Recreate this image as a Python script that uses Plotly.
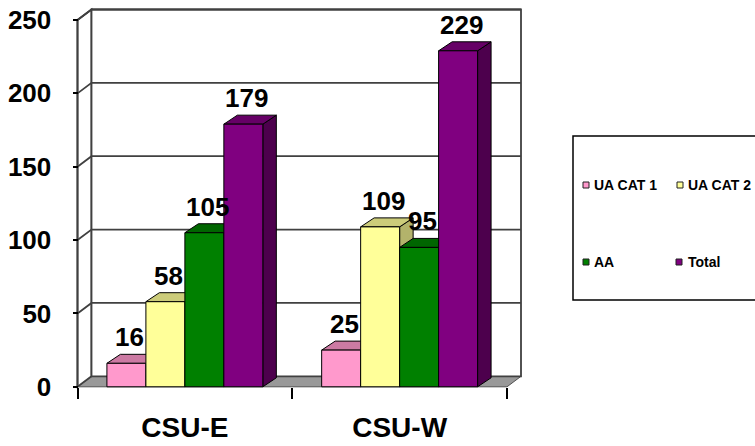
import plotly.graph_objects as go

# ---- data -------------------------------------------------------------
categories = ["CSU-E", "CSU-W"]
series_names = ["UA CAT 1", "UA CAT 2", "AA", "Total"]
ua_cat1 = [16, 25]
ua_cat2 = [58, 109]
aa = [105, 95]
total = [179, 229]
y_tick_values = [0, 50, 100, 150, 200, 250]

series_values = [ua_cat1, ua_cat2, aa, total]

# ---- styles -----------------------------------------------------------
front_colors = ["#FF99CC", "#FFFF99", "#008000", "#800080"]
top_colors = ["#CC7AA3", "#CCCC7A", "#006600", "#660066"]
side_colors = ["#B36B8F", "#B3B36B", "#004D00", "#4D004D"]
FONT = "Liberation Sans, Arial, sans-serif"
GRID = "#404040"

# ---- frame geometry (pixels) -------------------------------------------
W, H = 755, 446
L, R, T, B = 60, 205, 4, 36
plot_w = W - L - R
plot_h = H - T - B

AX_X0, AX_X1 = 77.5, 507.0        # front edge of floor, left / right
AX_Y0, AX_YTOP = 386.8, 20.0      # value 0 / value 250 on the front axis
Y_TOP = y_tick_values[-1]
PX_PER_X = (AX_X1 - AX_X0) / len(categories)
PX_PER_Y = (AX_Y0 - AX_YTOP) / Y_TOP

x_lo, x_hi = -0.5, len(categories) - 0.5
x_range = [x_lo - (AX_X0 - L) / PX_PER_X, x_lo + (W - R - AX_X0) / PX_PER_X]
y_range = [-(H - B - AX_Y0) / PX_PER_Y, (AX_Y0 - T) / PX_PER_Y]

# depth offsets of the walls and of the bars
WALL_DX, WALL_DY = 14 / PX_PER_X, 10.5 / PX_PER_Y
BAR_DX, BAR_DY = 13.5 / PX_PER_X, 9 / PX_PER_Y
BAR_W = 0.1815
n_series = len(series_values)


def px_x(px):
    return (px - L) / plot_w


def px_y(py):
    return (H - B - py) / plot_h


def poly(points):
    return "M " + " L ".join(f"{x},{y}" for x, y in points) + " Z"


fig = go.Figure()
shapes = []
annotations = []

# ---- walls and floor ---------------------------------------------------
shapes.append(dict(type="path", layer="below", xref="x", yref="y",
                   path=poly([(x_lo, 0), (x_hi, 0), (x_hi + WALL_DX, WALL_DY),
                              (x_lo + WALL_DX, WALL_DY)]),
                   fillcolor="#999999", line=dict(color="#505050", width=1)))
shapes.append(dict(type="path", layer="below", xref="x", yref="y",
                   path=poly([(x_lo, 0), (x_lo, Y_TOP), (x_lo + WALL_DX, Y_TOP + WALL_DY),
                              (x_lo + WALL_DX, WALL_DY)]),
                   fillcolor="white", line=dict(color=GRID, width=1.8)))
shapes.append(dict(type="rect", layer="below", xref="x", yref="y",
                   x0=x_lo + WALL_DX, x1=x_hi + WALL_DX, y0=WALL_DY, y1=Y_TOP + WALL_DY,
                   fillcolor="white", line=dict(color=GRID, width=1.8)))
for v in y_tick_values[1:]:
    shapes.append(dict(type="path", layer="below", xref="x", yref="y",
                       path=f"M {x_lo},{v} L {x_lo + WALL_DX},{v + WALL_DY} L {x_hi + WALL_DX},{v + WALL_DY}",
                       line=dict(color=GRID, width=1.8)))
# front vertical axis
shapes.append(dict(type="line", layer="below", xref="x", yref="y",
                   x0=x_lo, x1=x_lo, y0=0, y1=Y_TOP, line=dict(color=GRID, width=1.8)))

# ---- bars --------------------------------------------------------------
side_shapes, top_shapes = [], []
for i, (name, vals) in enumerate(zip(series_names, series_values)):
    offset = -n_series / 2 * BAR_W + i * BAR_W
    fig.add_trace(go.Bar(
        name=name, x=list(range(len(categories))), y=vals,
        width=BAR_W, offset=offset, showlegend=False,
        marker=dict(color=front_colors[i], line=dict(color="black", width=1)),
        hoverinfo="skip",
    ))
    for j, v in enumerate(vals):
        left = j + offset
        right = left + BAR_W
        side_shapes.append(dict(
            type="path", layer="below", xref="x", yref="y",
            path=poly([(right, 0), (right, v), (right + BAR_DX, v + BAR_DY), (right + BAR_DX, BAR_DY)]),
            fillcolor=side_colors[i], line=dict(color="black", width=1)))
        top_shapes.append(dict(
            type="path", layer="below", xref="x", yref="y",
            path=poly([(left, v), (right, v), (right + BAR_DX, v + BAR_DY), (left + BAR_DX, v + BAR_DY)]),
            fillcolor=top_colors[i], line=dict(color="black", width=1)))
        annotations.append(dict(
            xref="x", yref="y", x=left + BAR_W / 2 + BAR_DX / 4, y=v + BAR_DY,
            text=str(v), showarrow=False, xanchor="center", yanchor="bottom",
            font=dict(family=FONT, size=26, color="black", weight="bold")))
shapes += side_shapes + top_shapes

# ---- legend box --------------------------------------------------------
shapes.append(dict(type="rect", xref="paper", yref="paper",
                   x0=px_x(573), x1=px_x(762), y0=px_y(300), y1=px_y(136),
                   fillcolor="white", line=dict(color="black", width=1.5)))
legend_slots = [(583, 592, 185), (677, 686, 185), (583, 592, 262), (676, 686, 262)]
for i, (sq_x, tx, cy) in enumerate(legend_slots):
    shapes.append(dict(type="rect", xref="paper", yref="paper",
                       x0=px_x(sq_x), x1=px_x(sq_x + 6), y0=px_y(cy + 3), y1=px_y(cy - 3),
                       fillcolor=front_colors[i], line=dict(color="#202020", width=1)))
    annotations.append(dict(
        xref="paper", yref="paper", x=px_x(tx), y=px_y(cy), text=series_names[i],
        showarrow=False, xanchor="left", yanchor="middle",
        font=dict(family=FONT, size=14, color="black", weight="bold")))

fig.update_layout(
    width=W, height=H,
    margin=dict(l=L, r=R, t=T, b=B, pad=0, autoexpand=False),
    paper_bgcolor="white", plot_bgcolor="white",
    barmode="overlay",
    shapes=shapes, annotations=annotations,
    xaxis=dict(
        range=x_range, domain=[0, 1], anchor="free", position=px_y(AX_Y0),
        tickmode="array", tickvals=list(range(len(categories))), ticktext=categories,
        ticks="outside", ticklen=16, tickcolor="rgba(0,0,0,0)",
        tickfont=dict(family=FONT, size=28, color="black", weight="bold"),
        minor=dict(tickmode="array", tickvals=[x_lo + k for k in range(len(categories) + 1)],
                   ticks="outside", ticklen=11, tickwidth=1.5, tickcolor="black", showgrid=False),
        showgrid=False, zeroline=False, showline=False, fixedrange=True, automargin=False,
    ),
    yaxis=dict(
        range=y_range, domain=[0, 1], anchor="free", position=px_x(AX_X0),
        tickmode="array", tickvals=y_tick_values,
        ticks="outside", ticklen=5, tickwidth=1.5, tickcolor="black",
        ticklabelstandoff=16,
        tickfont=dict(family=FONT, size=26, color="black", weight="bold"),
        showgrid=False, zeroline=False, showline=False, fixedrange=True, automargin=False,
    ),
)

fig.write_html("out.html")
